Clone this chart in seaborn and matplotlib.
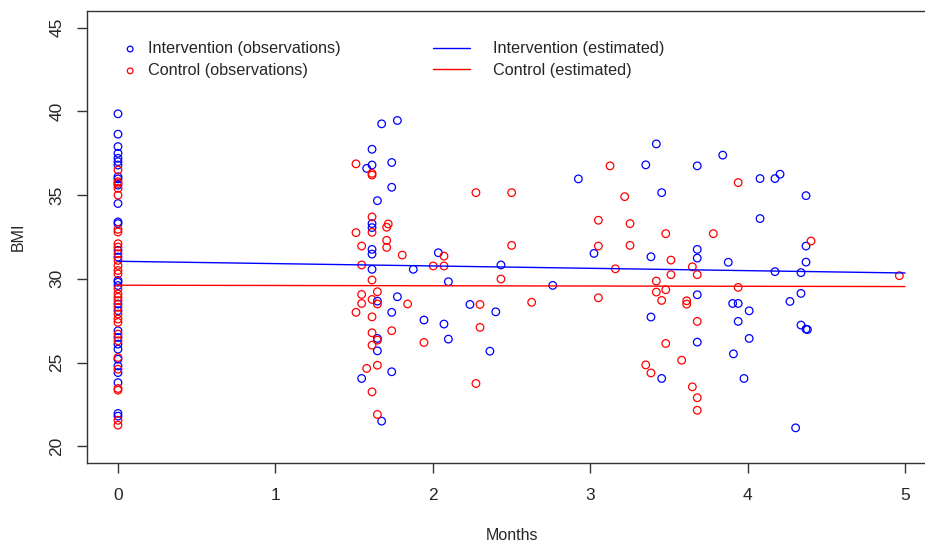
import numpy as np
import pandas as pd
import matplotlib
matplotlib.use("Agg")
import matplotlib.pyplot as plt
import seaborn as sns

# Intervention group observations (months, BMI)
int_month = [0] * 30 + [
    1.675, 1.775, 1.614, 1.614, 1.58, 1.739, 1.739, 1.648, 1.614, 1.614,
    1.614, 1.614, 1.614, 1.876, 1.648, 1.775, 1.739, 1.648, 1.648, 1.548,
    1.739, 1.675, 2.035, 2.099, 1.944, 2.071, 2.099, 2.433, 2.762, 2.236,
    2.4, 2.363, 2.925, 3.024,
    3.42, 3.842, 3.353, 3.68, 3.454, 3.386, 3.68, 3.68, 3.877, 3.68,
    3.905, 3.94, 3.386, 3.94, 3.68, 3.91, 3.454, 4.079, 4.174, 4.206,
    4.371, 4.079, 4.371, 4.371, 4.174, 4.339, 4.339, 4.269, 4.01, 4.339,
    4.371, 4.38, 4.01, 3.977, 4.305,
]
int_bmi = [
    39.86, 38.64, 37.9, 37.5, 37.2, 37.0, 36.8, 36.1, 35.97, 35.6,
    34.5, 33.4, 33.3, 31.7, 31.3, 29.9, 29.8, 29.6, 28.5, 28.1,
    26.9, 26.5, 26.1, 25.8, 25.2, 24.8, 24.4, 23.8, 21.96, 21.8,
    39.26, 39.46, 37.74, 36.8, 36.6, 36.95, 35.47, 34.67, 33.3, 33.06,
    31.76, 31.48, 30.57, 30.57, 28.67, 28.93, 28.0, 26.44, 25.7, 24.05,
    24.45, 21.5, 31.56, 29.83, 27.54, 27.3, 26.4, 30.83, 29.61, 28.47,
    28.03, 25.68, 35.97, 31.52,
    38.06, 37.39, 36.81, 36.75, 35.15, 31.32, 31.76, 31.24, 30.99, 29.05,
    28.53, 28.53, 27.72, 27.46, 26.22, 25.52, 24.05, 35.99, 35.99, 36.25,
    34.97, 33.6, 31.96, 31.0, 30.43, 30.37, 29.13, 28.65, 28.09, 27.24,
    27.0, 26.97, 26.44, 24.05, 21.1,
]

# Control group observations (months, BMI)
ctl_month = [0] * 30 + [
    1.512, 1.614, 1.614, 1.614, 1.614, 1.512, 1.717, 1.707, 1.707, 1.707,
    1.548, 1.806, 1.548, 1.614, 1.548, 1.648, 1.548, 1.614, 1.648, 1.84,
    1.512, 1.614, 1.739, 1.614, 1.648, 1.614, 1.648, 1.58, 1.614, 1.648,
    2.071, 2.003, 2.071, 1.944, 2.274, 2.501, 2.501, 2.433, 2.30, 2.628,
    2.30, 2.274,
    3.052, 3.052, 3.052, 3.126, 3.94, 3.219, 3.253, 3.48, 3.782, 3.253,
    3.513, 3.649, 3.16, 3.513, 3.68, 3.42, 3.94, 3.42, 3.48, 3.454,
    3.613, 3.613, 3.68, 3.48, 3.581, 3.353, 3.386, 3.649, 3.68, 3.68,
    4.403, 4.964,
]
ctl_bmi = [
    36.5, 35.8, 35.7, 35.4, 35.0, 32.96, 32.8, 32.1, 31.9, 31.5,
    31.1, 30.8, 30.5, 30.3, 29.4, 29.1, 28.9, 28.7, 28.3, 27.9,
    27.6, 27.4, 26.7, 26.3, 25.3, 24.6, 23.45, 23.35, 21.55, 21.26,
    36.87, 36.3, 36.2, 33.7, 32.78, 32.76, 33.28, 33.08, 32.3, 31.88,
    31.96, 31.42, 30.83, 29.93, 29.07, 29.23, 28.53, 28.77, 28.5, 28.5,
    28.0, 27.73, 26.9, 26.78, 26.34, 26.04, 24.84, 24.65, 23.25, 21.9,
    31.36, 30.77, 30.77, 26.2, 35.15, 35.15, 32.0, 29.99, 28.47, 28.6,
    27.1, 23.75,
    33.5, 31.96, 28.87, 36.75, 35.75, 34.91, 33.3, 32.7, 32.7, 32.0,
    31.12, 30.72, 30.6, 30.25, 30.25, 29.87, 29.49, 29.21, 29.35, 28.71,
    28.69, 28.49, 27.46, 26.14, 25.14, 24.86, 24.38, 23.55, 22.9, 22.15,
    32.26, 30.19,
]

# Estimated trajectories
est_month = [0, 5.0]
int_est = [31.05, 30.35]
ctl_est = [29.62, 29.54]

sns.set_style("white")
plt.rcParams["font.family"] = ["Liberation Sans", "DejaVu Sans"]

fig = plt.figure(figsize=(9.25, 5.42), dpi=100)
ax = fig.add_axes([86.5 / 925, 79 / 542, 850 / 925, 452 / 542])

sns.scatterplot(x=int_month, y=int_bmi, ax=ax, marker="o", s=30,
                facecolors="none", edgecolor="blue", linewidth=0.9,
                label="Intervention (observations)", legend=False)
sns.scatterplot(x=ctl_month, y=ctl_bmi, ax=ax, marker="o", s=30,
                facecolors="none", edgecolor="red", linewidth=0.9,
                label="Control (observations)", legend=False)
sns.lineplot(x=est_month, y=int_est, ax=ax, color="blue", linewidth=1,
             label="Intervention (estimated)", legend=False)
sns.lineplot(x=est_month, y=ctl_est, ax=ax, color="red", linewidth=1,
             label="Control (estimated)", legend=False)

ax.set_xlim(-0.2, 5.2)
ax.set_ylim(19, 46)
ax.set_xticks([0, 1, 2, 3, 4, 5])
ax.set_yticks([20, 25, 30, 35, 40, 45])
ax.set_xlabel("Months", fontsize=11.5, labelpad=18)
ax.set_ylabel("BMI", fontsize=11.5, labelpad=17)
ax.tick_params(axis="both", direction="out", length=7, width=1,
               color="#333333", labelsize=12.5, pad=9,
               bottom=True, left=True)
ax.tick_params(axis="x", pad=11)
for lab in ax.get_yticklabels():
    lab.set_rotation(90)
    lab.set_va("center")
for sp in ax.spines.values():
    sp.set_color("#333333")
    sp.set_linewidth(1)

handles, labels = ax.get_legend_handles_labels()
leg_kw = dict(loc="upper left", frameon=False, fontsize=11.7,
              borderaxespad=0, borderpad=0, labelspacing=0.42)
leg1 = ax.legend(handles[:2], labels[:2], bbox_to_anchor=(0.0418, 0.933),
                 handlelength=1.0, handletextpad=0.6, markerscale=0.75,
                 **leg_kw)
ax.add_artist(leg1)
ax.legend(handles[2:], labels[2:], bbox_to_anchor=(0.4076, 0.933),
          handlelength=2.28, handletextpad=1.42, **leg_kw)

fig.savefig("out.png", dpi=100)
